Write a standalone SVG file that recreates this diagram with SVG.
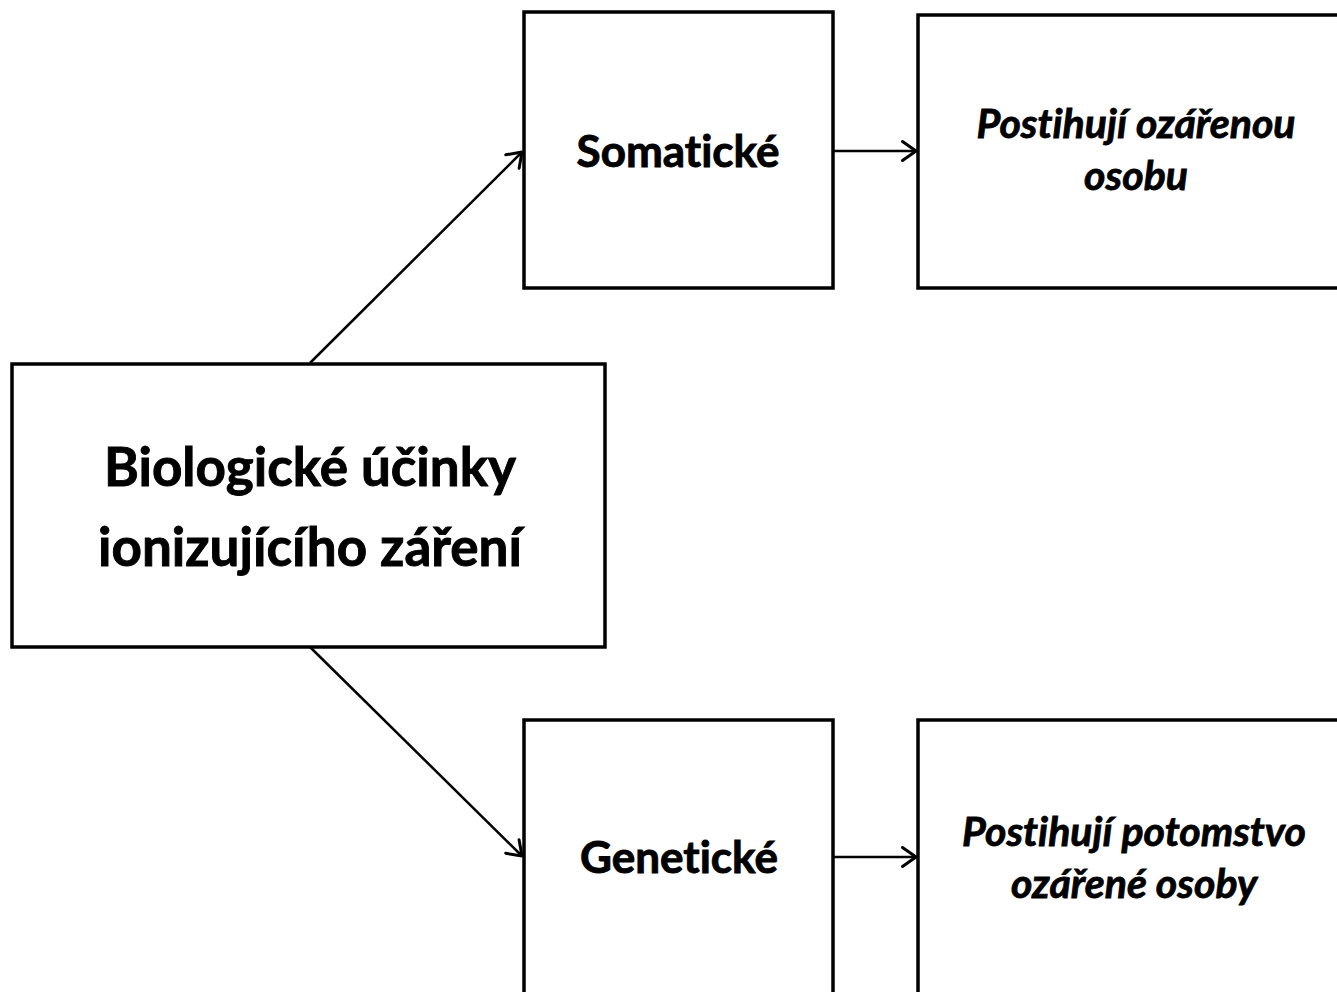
<svg xmlns="http://www.w3.org/2000/svg" width="1337" height="992" viewBox="0 0 1337 992">
  <style>
    .box { fill: #ffffff; stroke: #000000; stroke-width: 3.5; }
    .link { fill: none; stroke: #000000; stroke-width: 2.5; }
    .head { fill: none; stroke: #000000; stroke-width: 3; stroke-linecap: round; stroke-linejoin: round; }
    text { font-family: Lato, "Liberation Sans", sans-serif; font-weight: bold; text-anchor: middle; fill: #000; stroke: #000; stroke-width: 0.9; font-variant-ligatures: none; }
    .title { font-size: 53px; }
    .kind { font-size: 44px; }
    .note { font-style: italic; font-size: 41px; stroke-width: 0.8; }
  </style>
  <defs>
    <marker id="arrow" viewBox="0 0 16 22" refX="15" refY="11" markerWidth="16" markerHeight="22" markerUnits="userSpaceOnUse" orient="auto">
      <path class="head" d="M1.5,1.5 L15,11 L1.5,20.5"/>
    </marker>
  </defs>
  <rect width="1337" height="992" fill="#ffffff"/>

  <g id="connectors">
    <line class="link" x1="310" y1="363" x2="522" y2="152" marker-end="url(#arrow)"/>
    <line class="link" x1="310" y1="647" x2="522" y2="856" marker-end="url(#arrow)"/>
    <line class="link" x1="834" y1="151" x2="916" y2="151" marker-end="url(#arrow)"/>
    <line class="link" x1="834" y1="857" x2="916" y2="857" marker-end="url(#arrow)"/>
  </g>

  <g id="node-effects">
    <rect class="box" x="12" y="364" width="593" height="283"/>
    <text class="title" x="310" y="486">Biologické účinky</text>
    <text class="title" x="310" y="566">ionizujícího záření</text>
  </g>

  <g id="node-somatic">
    <rect class="box" x="524" y="12" width="309" height="276"/>
    <text class="kind" x="678" y="167">Somatické</text>
  </g>

  <g id="node-somatic-note">
    <rect class="box" x="918" y="15" width="440" height="273"/>
    <text class="note" x="1136" y="138">Postihují ozářenou</text>
    <text class="note" x="1136" y="190">osobu</text>
  </g>

  <g id="node-genetic">
    <rect class="box" x="524" y="720" width="309" height="290"/>
    <text class="kind" x="679" y="873">Genetické</text>
  </g>

  <g id="node-genetic-note">
    <rect class="box" x="918" y="720" width="440" height="290"/>
    <text class="note" x="1134" y="846">Postihují potomstvo</text>
    <text class="note" x="1134" y="898">ozářené osoby</text>
  </g>
</svg>
